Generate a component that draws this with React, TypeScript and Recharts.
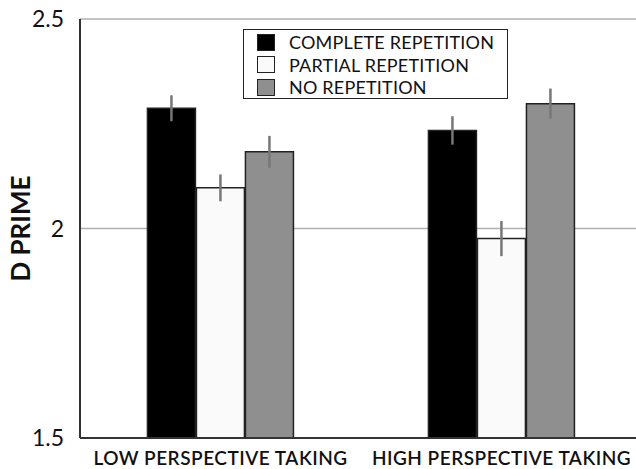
import { BarChart, Bar, XAxis, YAxis, CartesianGrid, ErrorBar, Label } from 'recharts';

const categories = ['LOW PERSPECTIVE TAKING', 'HIGH PERSPECTIVE TAKING'];
const complete = [2.287, 2.234];
const partial = [2.097, 1.976];
const noRep = [2.183, 2.298];
const completeErr = [0.031, 0.034];
const partialErr = [0.032, 0.042];
const noRepErr = [0.038, 0.036];
const yTicks = [1.5, 2, 2.5];

const SERIES = [
  { key: 'complete', name: 'COMPLETE REPETITION', fill: '#000000' },
  { key: 'partial', name: 'PARTIAL REPETITION', fill: '#fafafa' },
  { key: 'noRep', name: 'NO REPETITION', fill: '#8f8f8f' },
];

const data = categories.map((cat, i) => ({
  cat,
  complete: complete[i],
  partial: partial[i],
  noRep: noRep[i],
  completeErr: completeErr[i],
  partialErr: partialErr[i],
  noRepErr: noRepErr[i],
}));

const FONT = 'Lato, "Open Sans", sans-serif';

function LegendBox() {
  return (
    <div style={{
      position: 'absolute', left: 243, top: 29, width: 265, height: 70, boxSizing: 'border-box',
      border: '1.5px solid #222', background: '#fff', padding: '1px 0 0 13px',
      fontFamily: FONT, fontSize: 18, color: '#111', lineHeight: '22.5px', letterSpacing: 0.2,
      whiteSpace: 'nowrap',
    }}>
      {SERIES.map(s => (
        <div key={s.key} style={{ display: 'flex', alignItems: 'center' }}>
          <span style={{
            display: 'inline-block', width: 16, height: 15, background: s.fill,
            border: '1.5px solid #222', marginRight: 14, flexShrink: 0,
          }} />
          <span>{s.name}</span>
        </div>
      ))}
    </div>
  );
}

export default function App() {
  return (
    <div style={{ position: 'absolute', left: 0, top: 0, width: 636, height: 469, overflow: 'hidden', background: '#fff' }}>
      <BarChart
        width={644}
        height={469}
        data={data}
        margin={{ top: 19, right: 2, left: 0, bottom: 1 }}
        barCategoryGap="24%"
        barGap={1}
      >
        <CartesianGrid vertical={false} stroke="#b0b0b0" strokeWidth={1.5} />
        <XAxis
          dataKey="cat"
          height={30}
          axisLine={{ stroke: '#333', strokeWidth: 2 }}
          tickLine={false}
          tickSize={0}
          tickMargin={14}
          interval={0}
          tick={{ fill: '#111', fontSize: 19, fontFamily: FONT, fontWeight: 600, letterSpacing: 0.5 }}
        />
        <YAxis
          domain={[1.5, 2.5]}
          ticks={yTicks}
          allowDataOverflow
          width={80}
          axisLine={{ stroke: '#333', strokeWidth: 2 }}
          tickLine={false}
          tickSize={0}
          tickMargin={16}
          tick={{ fill: '#111', fontSize: 23, fontFamily: FONT }}
        >
          <Label
            value="D PRIME"
            angle={-90}
            position="insideLeft"
            offset={21}
            style={{ fill: '#111', fontSize: 26, fontFamily: FONT, fontWeight: 700, textAnchor: 'middle' }}
          />
        </YAxis>
        {SERIES.map(s => (
          <Bar
            key={s.key}
            dataKey={s.key}
            name={s.name}
            fill={s.fill}
            stroke="#222"
            strokeWidth={1.5}
            isAnimationActive={false}
          >
            <ErrorBar dataKey={`${s.key}Err`} width={0} stroke="#777" strokeWidth={2.5} direction="y" />
          </Bar>
        ))}
      </BarChart>
      <LegendBox />
    </div>
  );
}
